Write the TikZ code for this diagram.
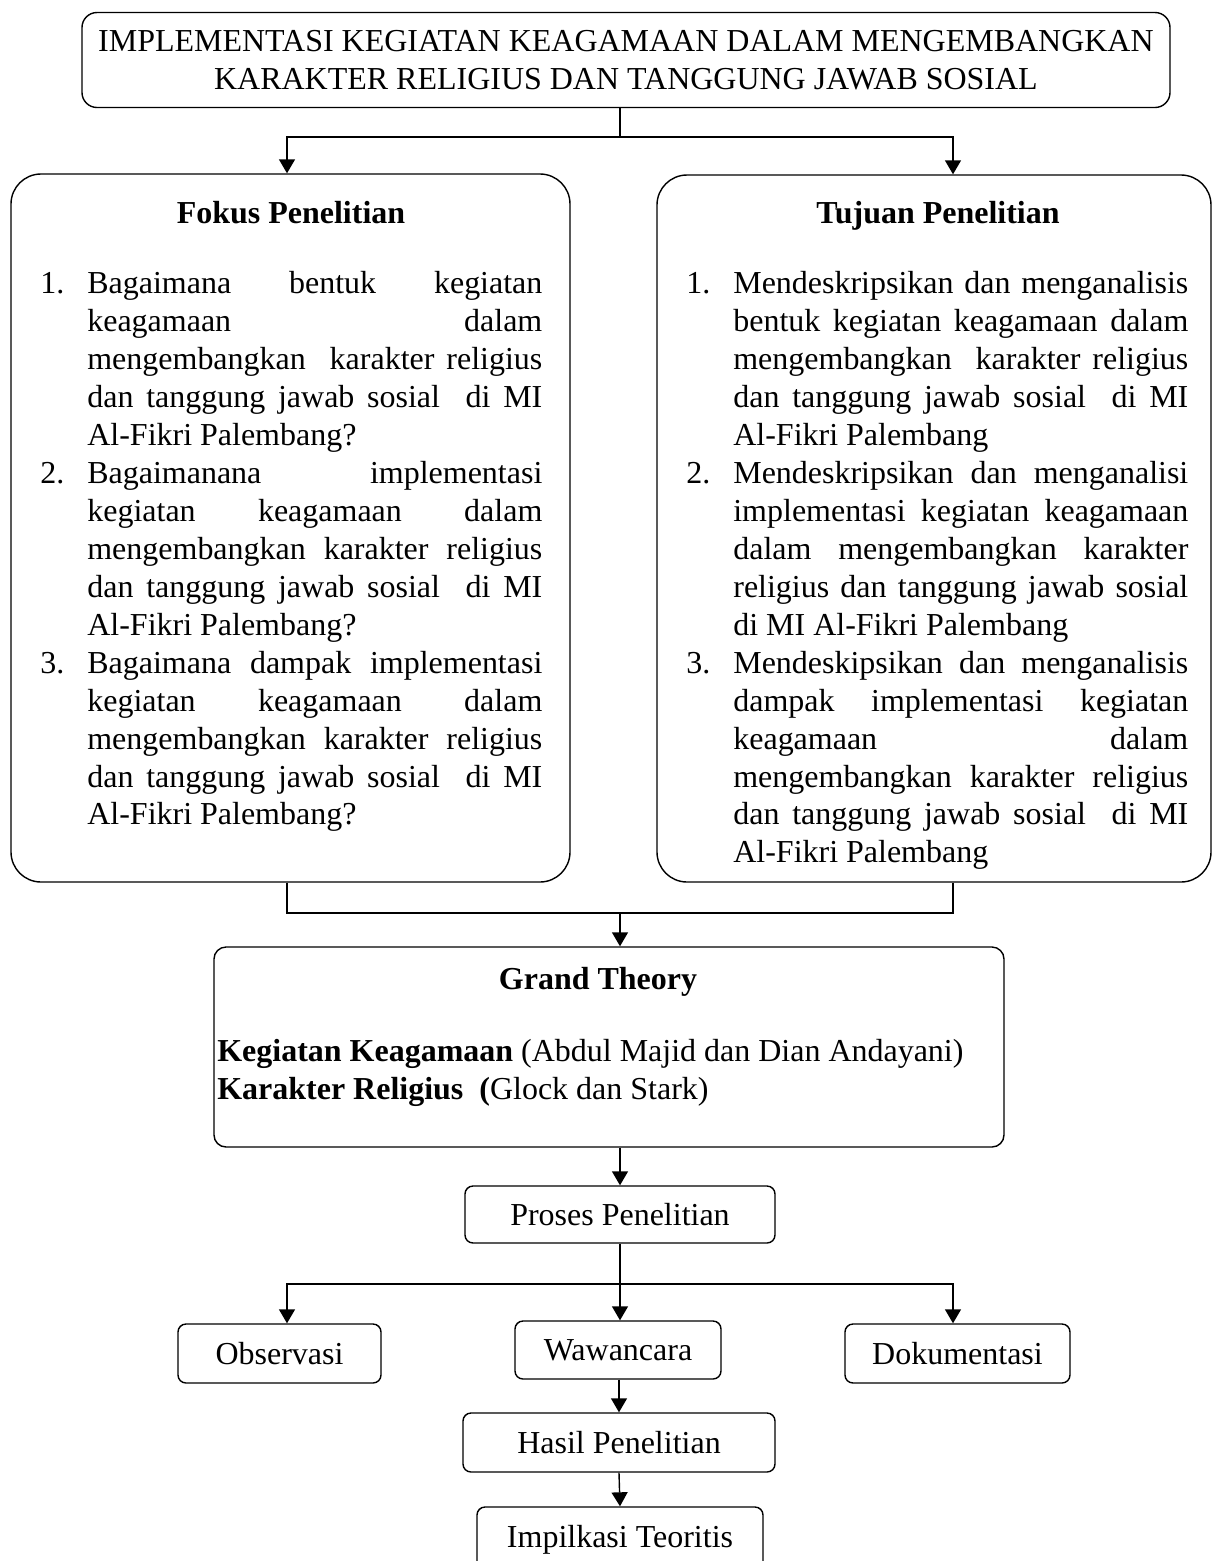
\documentclass[tikz,border=0pt]{standalone}
\usepackage{fontspec}
\setmainfont{Liberation Serif}
\usetikzlibrary{arrows.meta}

\newcommand{\jline}[1]{\makebox[9.1cm][s]{#1}}
\newcommand{\itemno}[1]{\makebox[0.94cm][l]{#1}}
\newcommand{\noindentno}{\hspace*{0.94cm}}

\tikzset{
  box/.style={draw, line width=0.8pt, rounded corners=0.3cm, inner sep=0pt},
  bigbox/.style={box, rounded corners=0.6cm},
  smallbox/.style={box, rounded corners=0.16cm},
  arr/.style={line width=0.8pt, -{Triangle[length=0.28cm,width=0.32cm]}},
  line/.style={line width=0.8pt}
}

\begin{document}
\begin{tikzpicture}[font=\fontsize{18.2}{21.6}\selectfont]
  \useasboundingbox (0,0) rectangle (24.26,-31.22);

  % Draw boxes
  \node[box, minimum width=21.76cm, minimum height=1.9cm, align=center] (title) at (12.52,-1.2)
    {IMPLEMENTASI KEGIATAN KEAGAMAAN DALAM MENGEMBANGKAN\\KARAKTER RELIGIUS DAN TANGGUNG JAWAB SOSIAL};

  \node[bigbox, minimum width=11.18cm, minimum height=14.16cm] (fokus) at (5.81,-10.56) {};
  \node[anchor=base] (fokushead) at (5.82,-4.46) {\bfseries Fokus Penelitian};
  \node[anchor=north west, align=left, inner sep=0pt] (fokuslist) at (0.8,-5.42) {%
    \itemno{1.}\jline{Bagaimana bentuk kegiatan}\\
    \noindentno\jline{keagamaan dalam}\\
    \noindentno\jline{mengembangkan\ \ karakter religius}\\
    \noindentno\jline{dan tanggung jawab sosial\ \ di MI}\\
    \noindentno Al-Fikri Palembang?\\
    \itemno{2.}\jline{Bagaimanana implementasi}\\
    \noindentno\jline{kegiatan keagamaan dalam}\\
    \noindentno\jline{mengembangkan karakter religius}\\
    \noindentno\jline{dan tanggung jawab sosial\ \ di MI}\\
    \noindentno Al-Fikri Palembang?\\
    \itemno{3.}\jline{Bagaimana dampak implementasi}\\
    \noindentno\jline{kegiatan keagamaan dalam}\\
    \noindentno\jline{mengembangkan karakter religius}\\
    \noindentno\jline{dan tanggung jawab sosial\ \ di MI}\\
    \noindentno Al-Fikri Palembang?};

  \node[bigbox, minimum width=11.08cm, minimum height=14.14cm] (tujuan) at (18.68,-10.57) {};
  \node[anchor=base] (tujuanhead) at (18.76,-4.46) {\bfseries Tujuan Penelitian};
  \node[anchor=north west, align=left, inner sep=0pt] (tujuanlist) at (13.72,-5.42) {%
    \itemno{1.}\jline{Mendeskripsikan dan menganalisis}\\
    \noindentno\jline{bentuk kegiatan keagamaan dalam}\\
    \noindentno\jline{mengembangkan\ \ karakter religius}\\
    \noindentno\jline{dan tanggung jawab sosial\ \ di MI}\\
    \noindentno Al-Fikri Palembang\\
    \itemno{2.}\jline{Mendeskripsikan dan menganalisi}\\
    \noindentno\jline{implementasi kegiatan keagamaan}\\
    \noindentno\jline{dalam mengembangkan karakter}\\
    \noindentno\jline{religius dan tanggung jawab sosial}\\
    \noindentno di MI Al-Fikri Palembang\\
    \itemno{3.}\jline{Mendeskipsikan dan menganalisis}\\
    \noindentno\jline{dampak implementasi kegiatan}\\
    \noindentno\jline{keagamaan dalam}\\
    \noindentno\jline{mengembangkan karakter religius}\\
    \noindentno\jline{dan tanggung jawab sosial\ \ di MI}\\
    \noindentno Al-Fikri Palembang};

  \node[box, rounded corners=0.24cm, minimum width=15.8cm, minimum height=4cm] (grand) at (12.18,-20.94) {};
  \node (grandhead) at (11.96,-19.64) {\bfseries Grand Theory};
  \node[anchor=west, align=left, inner sep=0pt] (grandtext) at (4.34,-21.46)
    {\textbf{Kegiatan Keagamaan} (Abdul Majid dan Dian Andayani)\\
     \textbf{Karakter Religius\ \ (}Glock dan Stark)};

  \node[smallbox, minimum width=6.2cm, minimum height=1.14cm] (proses) at (12.4,-24.29) {Proses Penelitian};
  \node[smallbox, minimum width=4.06cm, minimum height=1.18cm] (obs) at (5.59,-27.07) {Observasi};
  \node[smallbox, minimum width=4.12cm, minimum height=1.16cm] (waw) at (12.36,-27.0) {Wawancara};
  \node[smallbox, minimum width=4.5cm, minimum height=1.18cm] (dok) at (19.15,-27.07) {Dokumentasi};
  \node[smallbox, minimum width=6.24cm, minimum height=1.18cm] (hasil) at (12.38,-28.85) {Hasil Penelitian};
  \node[smallbox, minimum width=5.72cm, minimum height=1.3cm] (impl) at (12.4,-30.79) {Impilkasi Teoritis};

  % Connect boxes with arrows
  \coordinate (lcol) at (5.74,0);
  \coordinate (rcol) at (19.06,0);
  \coordinate (join1) at (12.4,-2.74);
  \coordinate (join2) at (12.4,-18.26);
  \coordinate (join3) at (12.4,-25.68);

  \draw[line] (title.south -| join1) -- (join1);
  \draw[arr] (join1) -| (fokus.north -| lcol);
  \draw[arr] (join1) -| (tujuan.north -| rcol);

  \draw[line] (fokus.south -| lcol) |- (join2);
  \draw[line] (tujuan.south -| rcol) |- (join2);
  \draw[arr] (join2) -- (grand.north -| join2);

  \draw[arr] (grand.south -| proses.north) -- (proses.north);
  \draw[line] (proses.south) -- (join3);
  \draw[arr] (join3) -| (obs.north -| lcol);
  \draw[arr] (join3) -| (dok.north -| rcol);
  \draw[arr] (join3) -- (waw.north -| join3);
  \draw[arr] (waw.south -| hasil.north) -- (hasil.north);
  \draw[arr] (hasil.south) -- (impl.north);
\end{tikzpicture}
\end{document}
